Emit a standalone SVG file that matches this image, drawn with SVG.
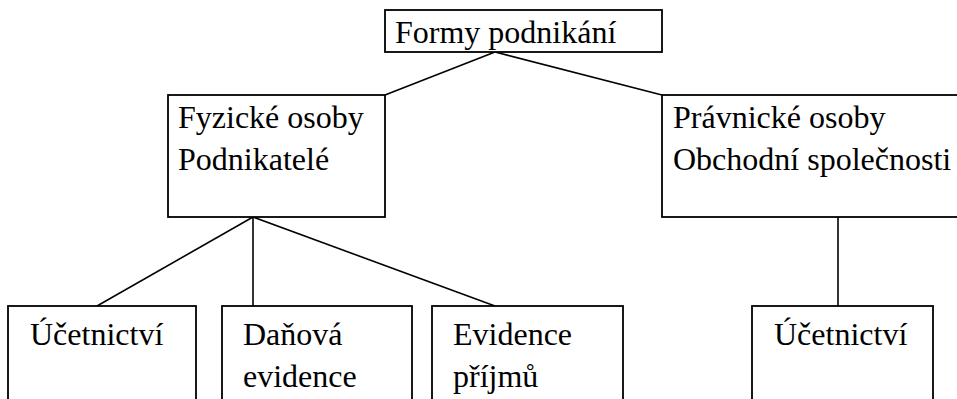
<svg xmlns="http://www.w3.org/2000/svg" width="957" height="399" viewBox="0 0 957 399">
<style>
rect{fill:#fff;stroke:#000;stroke-width:1.8}
text{font-family:"Liberation Serif","Times New Roman",serif;font-size:32px;fill:#000}
#connectors line{stroke:#000;stroke-width:1.6}
</style>
<rect x="0" y="0" width="957" height="399" style="stroke:none"/>
<g id="connectors">
<line x1="495" y1="52" x2="385" y2="95"/>
<line x1="495" y1="52" x2="662" y2="95"/>
<line x1="253" y1="217" x2="97" y2="306"/>
<line x1="253" y1="217" x2="253" y2="306"/>
<line x1="253" y1="217" x2="495" y2="306"/>
<line x1="838" y1="217" x2="838" y2="306"/>
</g>
<g id="formy"><rect x="385" y="10" width="277" height="42"/><text x="395" y="43">Formy podnikání</text></g>
<g id="fyzicke"><rect x="168" y="95" width="217" height="122"/><text x="178" y="128">Fyzické osoby</text><text x="178" y="170">Podnikatelé</text></g>
<g id="pravnicke"><rect x="662" y="95" width="310" height="122"/><text x="673" y="128">Právnické osoby</text><text x="673" y="170">Obchodní společnosti</text></g>
<g id="ucetnictvi1"><rect x="8" y="306" width="188" height="120"/><text x="30" y="345">Účetnictví</text></g>
<g id="danova"><rect x="222" y="306" width="190" height="120"/><text x="243" y="345">Daňová</text><text x="243" y="387">evidence</text></g>
<g id="evidence"><rect x="432" y="306" width="191" height="120"/><text x="453" y="345">Evidence</text><text x="453" y="387">příjmů</text></g>
<g id="ucetnictvi2"><rect x="752" y="306" width="181" height="120"/><text x="774" y="345">Účetnictví</text></g>
</svg>
